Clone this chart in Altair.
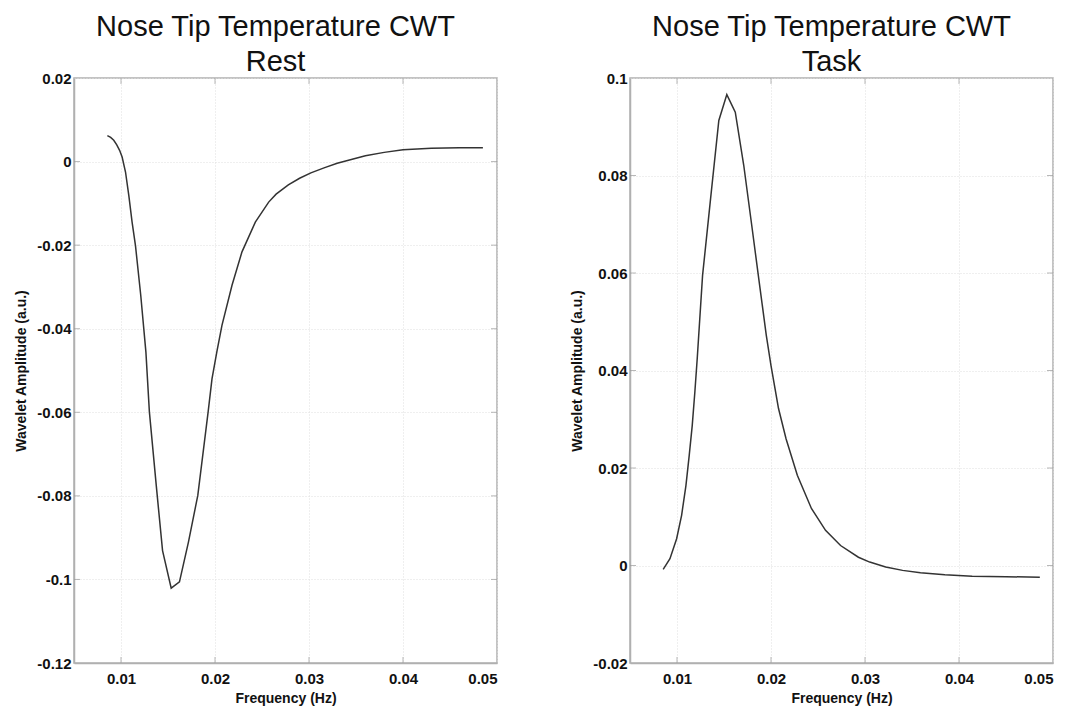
import altair as alt
import pandas as pd

rest_freq = [0.00855, 0.00890, 0.00923, 0.00955, 0.00985, 0.01012, 0.01048, 0.01083, 0.01118, 0.01154,
             0.01210, 0.01265, 0.01302, 0.01375, 0.01442, 0.01534, 0.01622, 0.01718, 0.01817, 0.01927,
             0.01968, 0.02020, 0.02074, 0.02181, 0.02287, 0.02429, 0.02571, 0.02650, 0.02780, 0.02900,
             0.03020, 0.03160, 0.03300, 0.03450, 0.03600, 0.03800, 0.04000, 0.04300, 0.04600, 0.04850]
rest_amp = [0.0062, 0.0058, 0.0051, 0.0040, 0.0027, 0.0011, -0.0025, -0.0081, -0.0145, -0.0201,
            -0.0320, -0.0456, -0.0599, -0.0775, -0.0931, -0.1021, -0.1006, -0.0910, -0.0799, -0.0599,
            -0.0520, -0.0455, -0.0392, -0.0296, -0.0216, -0.0145, -0.0097, -0.0078, -0.0056, -0.0040,
            -0.0027, -0.0015, -0.0004, 0.0005, 0.0014, 0.0022, 0.0028, 0.0032, 0.0033, 0.0033]

task_freq = [0.00853, 0.00925, 0.00996, 0.01049, 0.01095, 0.01130, 0.01162, 0.01190, 0.01215, 0.01272,
             0.01357, 0.01445, 0.01530, 0.01620, 0.01710, 0.01795, 0.01870, 0.01950, 0.02000, 0.02080,
             0.02160, 0.02280, 0.02430, 0.02580, 0.02740, 0.02930, 0.03050, 0.03220, 0.03400, 0.03590,
             0.03850, 0.04140, 0.04500, 0.04860]
task_amp = [-0.0008, 0.0014, 0.0055, 0.0103, 0.0164, 0.0226, 0.0287, 0.0356, 0.0424, 0.0595,
            0.0752, 0.0913, 0.0966, 0.0930, 0.0821, 0.0698, 0.0588, 0.0472, 0.0410, 0.0322,
            0.0260, 0.0185, 0.0117, 0.0072, 0.0041, 0.0017, 0.0007, -0.0003, -0.0010, -0.0015,
            -0.0019, -0.0022, -0.0023, -0.0024]

x_ticks = [0.01, 0.02, 0.03, 0.04, 0.05]
rest_yticks = [-0.12, -0.1, -0.08, -0.06, -0.04, -0.02, 0, 0.02]
task_yticks = [-0.02, 0, 0.02, 0.04, 0.06, 0.08, 0.1]

FONT = "Liberation Sans"
W, H = 423, 585
FRAME = "#b0b0b0"


def axis(values, title, lpad, tpad):
    return alt.Axis(values=values, title=title, labelExpr="'' + datum.value",
                    labelFont=FONT, titleFont=FONT, labelFontSize=15, titleFontSize=14,
                    labelFontWeight="bold", titleFontWeight="bold",
                    labelColor="#111", titleColor="#111",
                    labelPadding=lpad, titlePadding=tpad, tickSize=0,
                    domainColor=FRAME, domainWidth=1.5,
                    gridColor="#dedede", gridDash=[1, 2], gridWidth=1)


def panel(freq, amp, yticks, ydomain, condition):
    df = pd.DataFrame({"f": freq, "a": amp})
    xs = alt.Scale(domain=[0.005, 0.05], nice=False, zero=False)
    ys = alt.Scale(domain=ydomain, nice=False, zero=False)
    xa = axis(x_ticks, "Frequency (Hz)", 8, 5)
    ya = axis(yticks, "Wavelet Amplitude (a.u.)", 3, 8)
    line = alt.Chart(df).mark_line(color="#333333", strokeWidth=1.5).encode(
        x=alt.X("f:Q", scale=xs, axis=xa),
        y=alt.Y("a:Q", scale=ys, axis=ya),
    )
    xt = pd.DataFrame({"f": [v for v in x_ticks if v < 0.05]})
    yt = pd.DataFrame({"a": [v for v in yticks if ydomain[0] < v < ydomain[1]]})
    tick_style = dict(color="#9a9a9a", thickness=1, size=6)
    bottom = alt.Chart(xt).mark_tick(**tick_style).encode(
        x=alt.X("f:Q", scale=xs, axis=xa), y=alt.value(H - 3))
    top = alt.Chart(xt).mark_tick(**tick_style).encode(
        x=alt.X("f:Q", scale=xs, axis=xa), y=alt.value(3))
    lft = alt.Chart(yt).mark_tick(**tick_style).encode(
        y=alt.Y("a:Q", scale=ys, axis=ya), x=alt.value(3))
    rgt = alt.Chart(yt).mark_tick(**tick_style).encode(
        y=alt.Y("a:Q", scale=ys, axis=ya), x=alt.value(W - 3))
    return alt.layer(line, bottom, top, lft, rgt).properties(
        width=W, height=H,
        title=alt.TitleParams(["Nose Tip Temperature CWT", condition],
                              fontSize=29, font=FONT, fontWeight="normal",
                              lineHeight=35, offset=-6, anchor="middle", color="#111", dx=-10)
    )


left = panel(rest_freq, rest_amp, rest_yticks, [-0.12, 0.02], "Rest")
right = panel(task_freq, task_amp, task_yticks, [-0.02, 0.1], "Task")

chart = alt.hconcat(left, right, spacing=133, bounds="flush").properties(
    padding={"left": 6, "top": 4, "right": 0, "bottom": 0}
).configure_view(
    stroke=FRAME, strokeWidth=1.5
)

chart.save("out.html", embed_options={"renderer": "svg", "actions": False})
